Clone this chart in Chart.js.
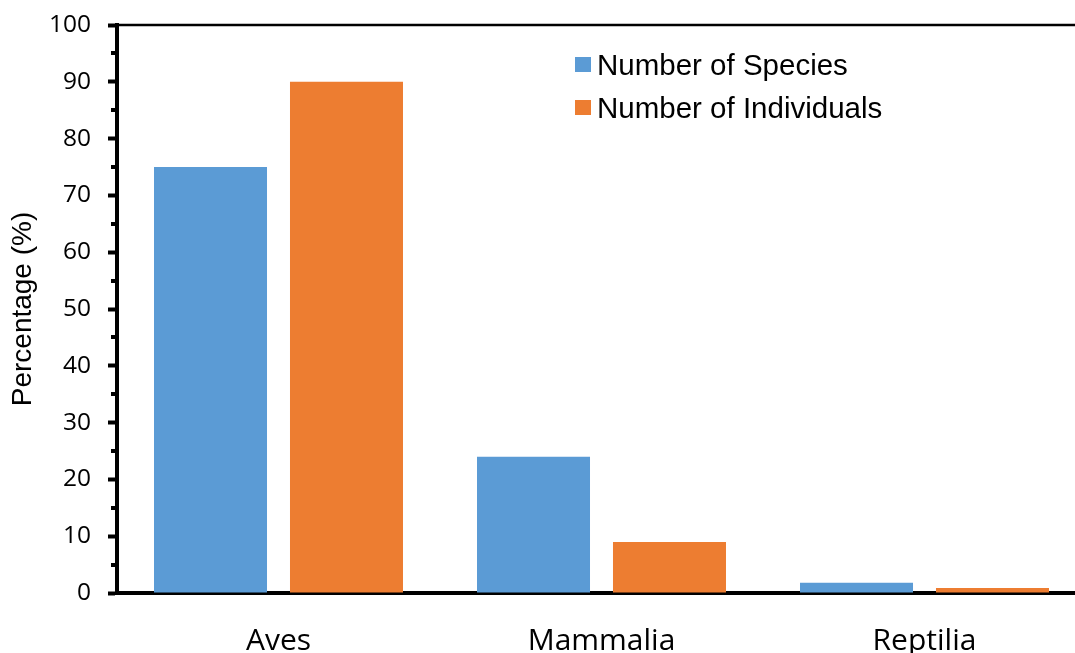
<!DOCTYPE html>
<html>
<head>
<meta charset="utf-8">
<script src="https://cdn.jsdelivr.net/npm/chart.js@4/dist/chart.umd.min.js"></script>
<style>
  html, body { margin: 0; padding: 0; background: #fff; overflow: hidden; }
  #wrap { position: relative; width: 1075px; height: 653px; overflow: hidden; }
  #myChart { position: absolute; left: 0; top: 0; }
  #legend { position: absolute; left: 575px; top: 43px; font-family: "Liberation Sans", Arial, sans-serif; font-size: 29.5px; color: #000; }
  #legend div { height: 43px; display: flex; align-items: center; white-space: nowrap; }
  #legend span.box { display: inline-block; width: 16px; height: 15px; margin-right: 6px; }
</style>
</head>
<body>
<div id="wrap">
  <canvas id="myChart" width="1100" height="670"></canvas>
  <div id="legend"></div>
</div>
<script>
var categories = ['Aves', 'Mammalia', 'Reptilia'];
var speciesPct = [75, 24, 1.8];
var individualsPct = [90, 9, 0.9];
var seriesNames = ['Number of Species', 'Number of Individuals'];
var seriesColors = ['#5B9BD5', '#ED7D31'];

var data = {
  labels: categories,
  datasets: [
    {
      label: seriesNames[0],
      data: speciesPct,
      backgroundColor: seriesColors[0],
      categoryPercentage: 0.842,
      barPercentage: 0.831
    },
    {
      label: seriesNames[1],
      data: individualsPct,
      backgroundColor: seriesColors[1],
      categoryPercentage: 0.842,
      barPercentage: 0.831
    }
  ]
};

// short minor ticks on the y axis and the thin top frame line
var extras = {
  id: 'extras',
  afterDraw: function (chart) {
    var c = chart.ctx, y = chart.scales.y, a = chart.chartArea;
    c.save();
    c.strokeStyle = '#000';
    c.lineWidth = 4;
    for (var v = 5; v < 100; v += 10) {
      var py = Math.round(y.getPixelForValue(v));
      c.beginPath();
      c.moveTo(a.left - 6, py);
      c.lineTo(a.left, py);
      c.stroke();
    }
    c.lineWidth = 2.5;
    c.beginPath();
    c.moveTo(a.left, a.top);
    c.lineTo(a.right + 20, a.top);
    c.stroke();
    c.restore();
  }
};

var options = {
  responsive: false,
  animation: false,
  layout: { padding: { top: 25, right: 14, left: 0, bottom: 0 } },
  plugins: {
    legend: { display: false },
    tooltip: { enabled: false }
  },
  scales: {
    x: {
      grid: { display: false },
      border: { color: '#000', width: 4 },
      ticks: {
        color: '#000',
        padding: 22,
        font: { family: '"Open Sans"', size: 30 }
      },
      afterFit: function (s) { s.height = 77; }
    },
    y: {
      min: 0,
      max: 100,
      border: { color: '#000', width: 4 },
      grid: {
        drawOnChartArea: false,
        tickLength: 9,
        tickWidth: 4,
        tickColor: '#000'
      },
      ticks: {
        stepSize: 10,
        color: '#000',
        padding: 17,
        font: { family: '"Open Sans"', size: 24.5 }
      },
      title: {
        display: true,
        text: 'Percentage (%)',
        color: '#000',
        padding: { top: 6, bottom: 0 },
        font: { family: '"Liberation Sans"', size: 28 }
      },
      afterFit: function (s) {
        s.width = 117;
        s.paddingTop = 0;
        s.paddingBottom = 0;
      }
    }
  }
};

var ctx = document.getElementById('myChart').getContext('2d');
var myChart = new Chart(ctx, {
  type: 'bar',
  data: data,
  options: options,
  plugins: [extras]
});

var legend = document.getElementById('legend');
myChart.data.datasets.forEach(function (ds) {
  var row = document.createElement('div');
  var box = document.createElement('span');
  box.className = 'box';
  box.style.background = ds.backgroundColor;
  var txt = document.createElement('span');
  txt.textContent = ds.label;
  row.appendChild(box);
  row.appendChild(txt);
  legend.appendChild(row);
});
</script>
</body>
</html>
